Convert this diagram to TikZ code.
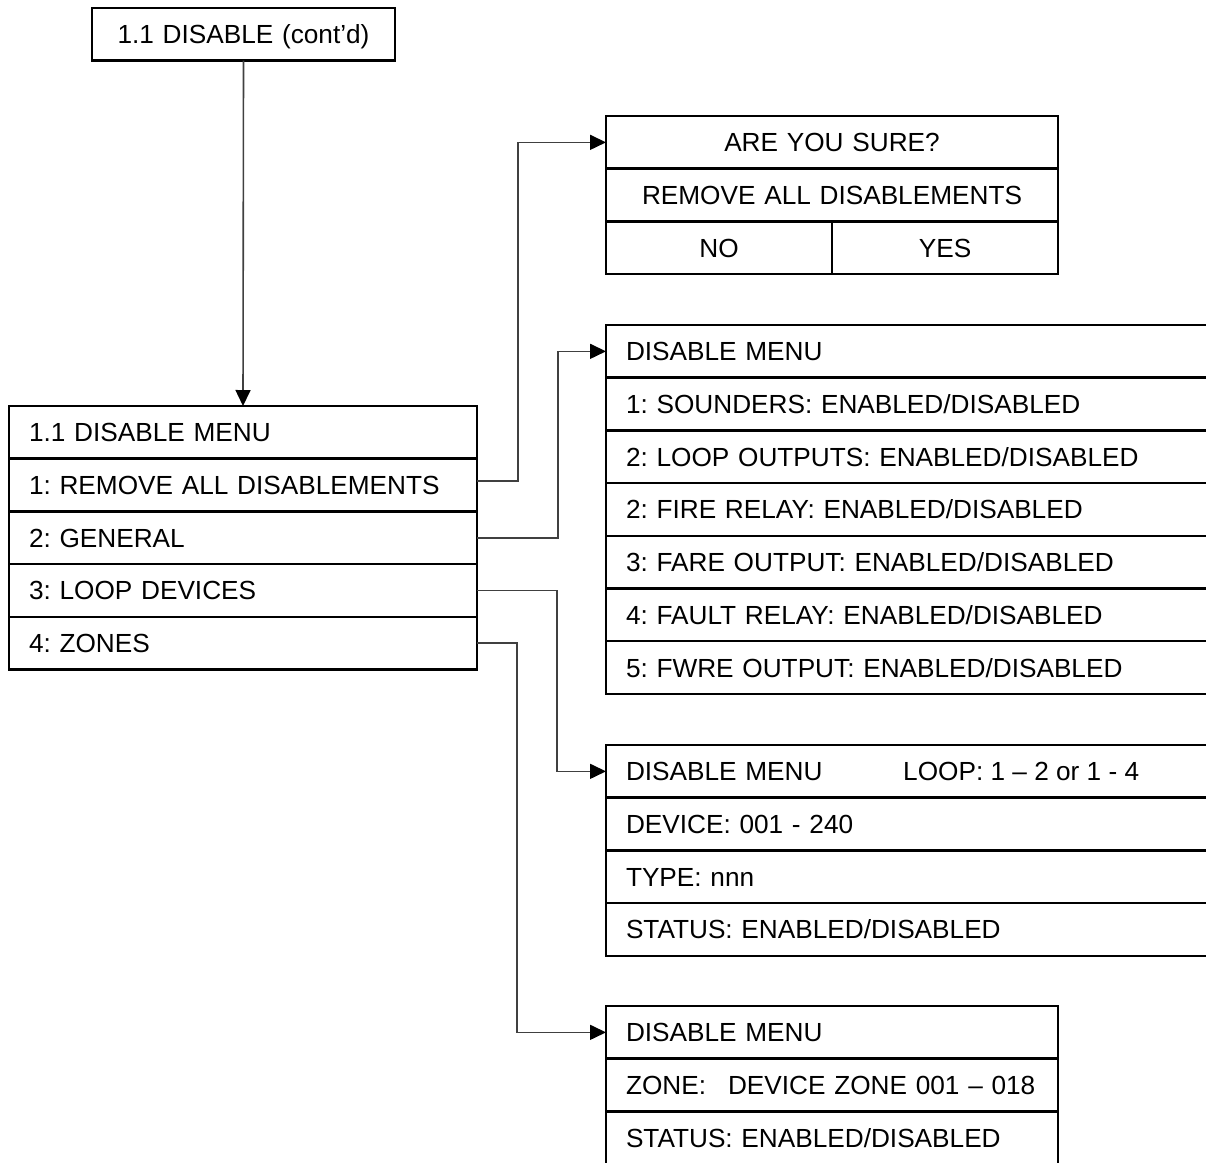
\documentclass[tikz,border=0pt]{standalone}
\usepackage{fontspec}
\setmainfont{Liberation Sans}
\usetikzlibrary{arrows.meta,calc}
\frenchspacing
\begin{document}
\begin{tikzpicture}[x=1pt,y=-1pt,
  txt/.style={font=\fontsize{26.2}{30}\selectfont\frenchspacing, text height=19pt, text depth=0pt},
  box/.style={txt, draw, line width=2.5pt, outer sep=0pt, anchor=north west,
    minimum height=52.7pt, inner xsep=20pt, inner ysep=0pt},
  lrow/.style={box, text width=#1, align=left},
  crow/.style={box, text width=#1, align=center},
  conn/.style={line width=1.6pt, draw=black!75,
    -{Triangle[length=16pt,width=15pt,color=black]}}
  ]
\useasboundingbox (0,0) rectangle (1206,1162);
\clip (0,0) rectangle (1206,1162);

% top box
\node[crow=263pt] (top) at (92,8) {1.1 DISABLE (cont’d)};

% main menu
\node[lrow=428pt] (m0) at (9,406) {1.1 DISABLE MENU};
\node[lrow=428pt] (m1) at (m0.south west) {1: REMOVE ALL DISABLEMENTS};
\node[lrow=428pt] (m2) at (m1.south west) {2: GENERAL};
\node[lrow=428pt] (m3) at (m2.south west) {3: LOOP DEVICES};
\node[lrow=428pt] (m4) at (m3.south west) {4: ZONES};

% are you sure
\node[crow=412pt] (a0) at (606,116) {ARE YOU SURE?};
\node[crow=412pt] (a1) at (a0.south west) {REMOVE ALL DISABLEMENTS};
\node[crow=186pt] (a2) at (a1.south west) {NO};
\node[crow=186pt] (a3) at (a2.north east) {YES};

% general
\node[lrow=604pt] (b0) at (606,325) {DISABLE MENU};
\node[lrow=604pt] (b1) at (b0.south west) {1: SOUNDERS: ENABLED/DISABLED};
\node[lrow=604pt] (b2) at (b1.south west) {2: LOOP OUTPUTS: ENABLED/DISABLED};
\node[lrow=604pt] (b3) at (b2.south west) {2: FIRE RELAY: ENABLED/DISABLED};
\node[lrow=604pt] (b4) at (b3.south west) {3: FARE OUTPUT: ENABLED/DISABLED};
\node[lrow=604pt] (b5) at (b4.south west) {4: FAULT RELAY: ENABLED/DISABLED};
\node[lrow=604pt] (b6) at (b5.south west) {5: FWRE OUTPUT: ENABLED/DISABLED};

% loop devices
\node[lrow=604pt] (c0) at (606,745) {DISABLE MENU};
\node[txt, inner sep=0pt, anchor=west] (loop) at ([xshift=297pt]c0.west) {LOOP: 1 – 2 or 1 - 4};
\node[lrow=604pt] (c1) at (c0.south west) {DEVICE: 001 - 240};
\node[lrow=604pt] (c2) at (c1.south west) {TYPE: nnn};
\node[lrow=604pt] (c3) at (c2.south west) {STATUS: ENABLED/DISABLED};

% zones
\node[lrow=412pt] (d0) at (606,1006) {DISABLE MENU};
\node[lrow=412pt] (d1) at (d0.south west) {\mbox{ZONE:\hspace{22pt}DEVICE ZONE 001 – 018}};
\node[lrow=412pt] (d2) at (d1.south west) {STATUS: ENABLED/DISABLED};

% connectors
\draw[conn] (top.south) -- (m0.north);
\draw[conn] ([yshift=4pt]m1.east) -- ++(41,0) |- (a0.west);
\draw[conn] (m2.east) -- ++(81,0) |- (b0.west);
\draw[conn] (m3.east) -- ++(80,0) |- (c0.west);
\draw[conn] (m4.east) -- ++(40,0) |- (d0.west);
\end{tikzpicture}
\end{document}
